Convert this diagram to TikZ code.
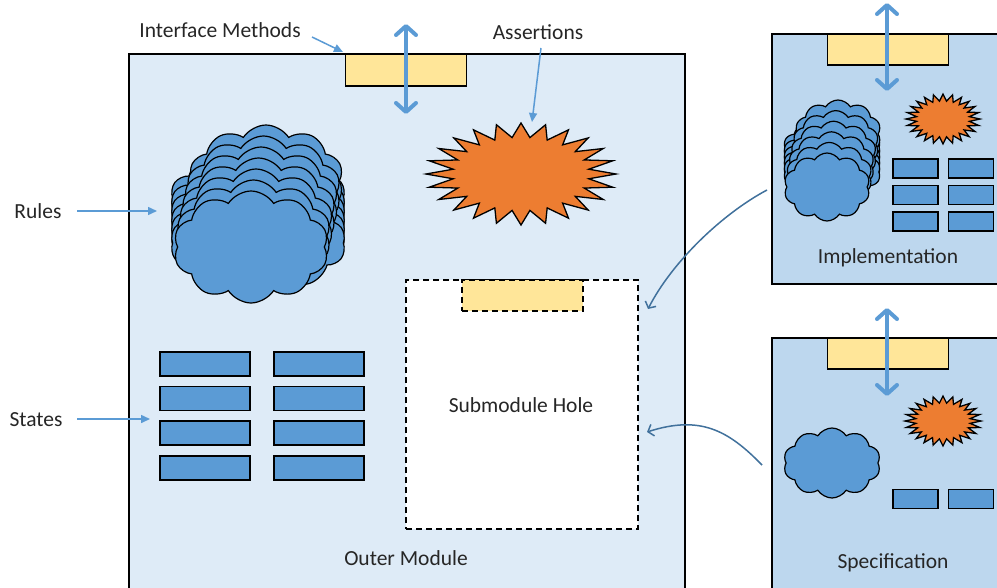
\documentclass[tikz,border=0pt]{standalone}
\usepackage{fontspec}
\setmainfont{Carlito}
\usetikzlibrary{shapes.symbols,arrows.meta}

\definecolor{outerfill}{HTML}{DEEBF7}
\definecolor{modfill}{HTML}{BDD7EE}
\definecolor{ifacefill}{HTML}{FFE699}
\definecolor{shapeblue}{HTML}{5B9BD5}
\definecolor{burstorange}{HTML}{ED7D31}
\definecolor{linkblue}{HTML}{41719C}
\definecolor{labelgray}{HTML}{262626}

\tikzset{
  modulebox/.style={draw=black, line width=1.4pt},
  iface/.style={draw=black, line width=1.2pt, fill=ifacefill, inner sep=0pt},
  holeline/.style={dash pattern=on 6pt off 4pt},
  statebox/.style={draw=black, line width=1.2pt, fill=shapeblue, inner sep=0pt},
  cloudy/.style={cloud, cloud puffs=10, cloud puff arc=115, draw=black, line width=1.2pt,
                 fill=shapeblue, inner sep=0pt},
  burst/.style={draw=black, line width=1.3pt, fill=burstorange, line join=miter},
  pointer/.style={draw=shapeblue, line width=1.5pt, -{Triangle[length=9pt,width=8pt]}},
  bothways/.style={draw=shapeblue, line width=4pt, line cap=round,
    {Straight Barb[length=9pt,width=20pt,round]}-{Straight Barb[length=9pt,width=20pt,round]}},
  plugin/.style={draw=linkblue, line width=1.5pt, -{Straight Barb[length=5pt,width=12pt]}},
  caption/.style={text=labelgray, font=\fontsize{21.5}{24}\selectfont, inner sep=0pt}
}

% spiky burst: centre x, centre y, radius x, radius y
\newcommand{\spiky}[4]{%
  \filldraw[burst] plot[samples at={0,...,47}, variable=\k]
    ({#1+(1-0.28*mod(\k,2))*#3*cos(7.5*\k)}, {#2+(1-0.28*mod(\k,2))*#4*sin(7.5*\k)}) -- cycle;}

\begin{document}
\begin{tikzpicture}[x=1pt, y=-1pt]
\useasboundingbox (0,0) rectangle (997,587);
\clip (0,0) rectangle (997,587);

% ---------- outer module ----------
\draw[modulebox, fill=outerfill] (129,54) rectangle (685,600);
\node[iface, minimum width=121pt, minimum height=32pt] (ifc) at (406,70) {};
\draw[bothways] (406,24) -- (406,114);

\node[caption] (lblIface) at (220,30) {Interface Methods};
\coordinate (ifcTip) at (343,52);
\draw[pointer] (312,37) -- (ifcTip);

% assertion burst
\spiky{521}{174}{95}{51}
\node[caption] (lblAssert) at (538,32) {Assertions};
\coordinate (assertTip) at (532,122);
\draw[pointer] (541,48) -- (assertTip);

% rule clouds, back to front
\foreach \i in {0,...,5}
  \node[cloudy, minimum width=175pt, minimum height=100pt] (rb\i) at (258,{198+9*\i}) {};
\foreach \i in {0,...,6}
  \node[cloudy, minimum width=155pt, minimum height=112pt] (ra\i) at ({266-2.5*\i},{181+11*\i}) {};
\node[caption] (lblRules) at (38,211) {Rules};
\coordinate (rulesTip) at (157,211);
\draw[pointer] (77,211) -- (rulesTip);

% state cells
\foreach \r/\y in {0/364,1/398.5,2/433,3/468} {
  \node[statebox, minimum width=90pt, minimum height=24pt] (sl\r) at (205,\y) {};
  \node[statebox, minimum width=90pt, minimum height=24pt] (sr\r) at (319,\y) {};
}
\node[caption] (lblStates) at (36,420) {States};
\coordinate (statesTip) at (150,419);
\draw[pointer] (77,419) -- (statesTip);

% submodule hole
\node[draw=black, holeline, line width=1.3pt, fill=white, minimum width=232pt, minimum height=249pt,
      inner sep=0pt] (hole) at (522,404.5) {};
\node[iface, holeline, minimum width=121pt, minimum height=31pt] (holeIfc) at (522.5,295.5) {};
\node[caption] (lblHole) at (521,405) {Submodule Hole};
\node[caption] (lblOuter) at (406,558) {Outer Module};

% ---------- implementation module ----------
\draw[modulebox, fill=modfill] (772,34) rectangle (1010,284);
\node[iface, minimum width=121pt, minimum height=31pt] (implIfc) at (888,49.5) {};
\draw[bothways] (887,3) -- (887,91);
\spiky{943}{119}{37}{25}
\foreach \i in {0,...,4}
  \node[cloudy, minimum width=97pt, minimum height=60pt] (ib\i) at (832,{148+6*\i}) {};
\foreach \i in {0,...,5}
  \node[cloudy, minimum width=86pt, minimum height=68pt] (ia\i) at ({838-2.2*\i},{134+10.6*\i}) {};
\foreach \r/\y in {0/168.5,1/195,2/221.5} {
  \node[statebox, minimum width=45pt, minimum height=19pt] (il\r) at (915.5,\y) {};
  \node[statebox, minimum width=45pt, minimum height=19pt] (ir\r) at (971,\y) {};
}
\node[caption] (lblImpl) at (888,258) {Implementation};

% ---------- specification module ----------
\draw[modulebox, fill=modfill] (772,338) rectangle (1010,600);
\node[iface, minimum width=121pt, minimum height=31pt] (specIfc) at (888,353.5) {};
\draw[bothways] (887,308) -- (887,396);
\spiky{943}{421}{38}{25}
\node[cloudy, minimum width=97pt, minimum height=70pt] (sc) at (832,463) {};
\node[statebox, minimum width=45pt, minimum height=19pt] (spl) at (915.5,499) {};
\node[statebox, minimum width=45pt, minimum height=19pt] (spr) at (971,499) {};
\node[caption] (lblSpec) at (893,563) {Specification};

% ---------- plugging into the hole ----------
\coordinate (implOut) at (767,190);
\coordinate (holeInA) at (648,309);
\draw[plugin] (implOut) .. controls (722,214) and (672,262) .. (holeInA);
\coordinate (specOut) at (762,465);
\coordinate (holeInB) at (647,432);
\draw[plugin] (specOut) .. controls (728,430) and (700,415) .. (holeInB);
\end{tikzpicture}
\end{document}
